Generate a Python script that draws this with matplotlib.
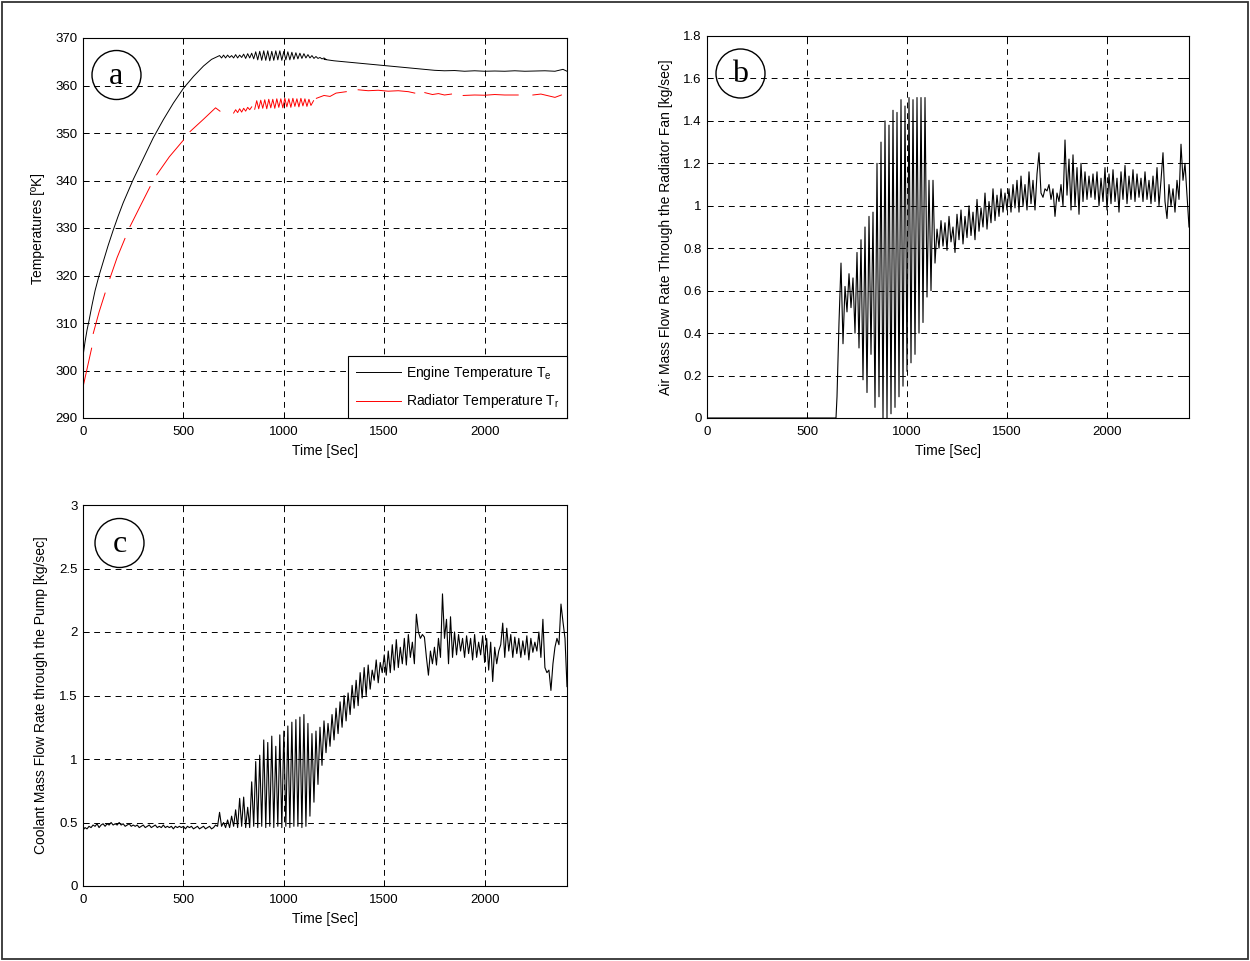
import numpy as np
import matplotlib
matplotlib.use('Agg')
import matplotlib.pyplot as plt
from matplotlib.patches import Circle, Rectangle
from matplotlib.ticker import FuncFormatter

plt.rcParams['font.family'] = ['Liberation Sans', 'DejaVu Sans']
plt.rcParams['mathtext.fontset'] = 'custom'
plt.rcParams['mathtext.rm'] = 'Liberation Sans'
plt.rcParams['mathtext.it'] = 'Liberation Sans'

## ================= data ================= ##
# (a) engine temperature [K]: smooth rise, then oscillating part (10 s steps), then decay
eng_rise_t = [0, 10, 20, 30, 45, 60, 80, 100, 125, 150, 175, 200, 250, 300,
              350, 400, 450, 500, 550, 600, 640, 670]
eng_rise_v = [303.0, 306.0, 308.5, 310.5, 313.8, 316.8, 320.0, 322.8, 326.3, 329.5,
              332.5, 335.3, 340.2, 344.6, 349.0, 352.8, 356.3, 359.4, 361.9, 364.1,
              365.5, 366.1]
eng_osc_t0 = 680
eng_osc_v = [366.3, 365.8, 366.4, 365.8, 366.4, 365.9, 366.3, 365.8, 366.5, 365.8,
             366.4, 365.9, 366.6, 365.7, 366.7, 365.8, 366.8, 365.6,
             367.1, 365.4, 367.2, 365.3, 367.3, 365.3, 367.3, 365.2, 367.2, 365.3,
             367.3, 365.4, 367.3, 365.3, 367.2, 365.4, 367.1, 365.4, 367.0, 365.5,
             366.9, 365.6, 366.8, 365.7, 366.7, 365.8, 366.5,
             365.8, 366.3, 365.7, 366.1, 365.7, 365.9, 365.6, 365.8, 365.5]
eng_decay_t = [1200, 1250, 1300, 1350, 1400, 1450, 1500, 1550, 1600, 1650, 1700, 1750,
               1800, 1850, 1900, 1950, 2000, 2050, 2100, 2150, 2200, 2250, 2300, 2350,
               2390, 2410]
eng_decay_v = [365.5, 365.2, 365.0, 364.8, 364.6, 364.4, 364.2, 364.0, 363.8, 363.6,
               363.4, 363.2, 363.1, 363.15, 363.0, 363.1, 363.0, 363.05, 363.0, 363.1,
               363.0, 363.05, 363.1, 363.0, 363.4, 363.0]

# (a) radiator temperature [K], drawn as separate pieces (gaps in the trace)
rad_pieces_t = [
    [0, 43],
    [51, 80, 110],
    [134, 170, 209],
    [234, 285, 334],
    [367, 430, 500],
    [533, 600, 660, 682],
    [750, 760, 770, 780, 790, 800, 810, 820, 830, 840],
    [855, 865, 875, 885, 895, 905, 915, 925, 935, 945, 955, 965, 975, 985, 995,
     1005, 1015, 1025, 1035, 1045, 1055, 1065, 1075, 1085, 1095, 1105, 1115, 1125,
     1135, 1148],
    [1162, 1200, 1230, 1260, 1311],
    [1370, 1420, 1470, 1520, 1570, 1620, 1652],
    [1702, 1740, 1770, 1800, 1835],
    [1893, 1950, 2000, 2050, 2100, 2167],
    [2240, 2280, 2320, 2350, 2382],
]
rad_pieces_v = [
    [296.5, 304.7],
    [307.8, 312.3, 316.3],
    [319.4, 323.8, 327.8],
    [330.3, 334.6, 338.7],
    [341.2, 345.0, 348.5],
    [350.3, 352.9, 355.3, 354.6],
    [354.2, 354.9, 354.3, 355.1, 354.4, 355.2, 354.6, 355.4, 354.9, 355.5],
    [355.0, 356.8, 355.1, 356.9, 355.2, 357.0, 355.1, 357.1, 355.3, 357.1, 355.2,
     357.2, 355.4, 357.2, 355.3, 357.3, 355.5, 357.2, 355.4, 357.3, 355.6, 357.2,
     355.5, 357.3, 355.7, 357.2, 355.6, 357.1, 355.8, 356.8],
    [357.3, 357.9, 357.7, 358.4, 358.7],
    [359.1, 358.9, 359.0, 358.8, 358.9, 358.7, 358.4],
    [358.5, 358.1, 358.3, 358.0, 358.2],
    [357.9, 358.0, 357.95, 358.1, 358.0, 358.0],
    [358.0, 358.2, 357.8, 357.5, 358.0],
]

# (b) air mass flow through the radiator fan [kg/sec]
fan_off_t = [0, 645]
fan_off_v = [0.0, 0.0]
fan_t0 = 650  # 10 s samples from here
fan_v = [0.10, 0.45, 0.73, 0.35, 0.62, 0.50, 0.68, 0.52, 0.66, 0.40,
         0.78, 0.33, 0.84, 0.18, 0.90, 0.12, 0.95, 0.30, 0.97, 0.05,
         1.20, 0.10, 1.30, 0.00, 1.40, 0.00, 1.38, 0.02, 1.45, 0.05,
         1.44, 0.10, 1.50, 0.15, 1.47, 0.22, 1.51, 0.26, 1.50, 0.30,
         1.51, 0.40, 1.51, 0.45, 1.51, 0.57, 1.12, 0.60, 1.12, 0.73, 0.89,
         0.80, 0.93, 0.81, 0.92, 0.79, 0.95, 0.83, 0.90, 0.78, 0.96,
         0.84, 0.98, 0.82, 0.95, 0.85, 1.00, 0.86, 0.97, 0.84, 1.03,
         0.88, 0.99, 0.90, 1.06, 0.89, 1.02, 0.92, 1.08, 0.93, 1.05,
         0.95, 1.08, 0.97, 1.06, 0.98, 1.08, 0.97, 1.10, 0.99, 1.12,
         0.97, 1.14, 1.00, 1.10, 0.98, 1.16, 1.01, 1.12, 0.98, 1.15,
         1.25, 1.06, 1.04, 1.08, 1.07, 1.10, 1.03, 1.08, 0.95, 1.06,
         1.02, 1.10, 1.00, 1.31, 1.05, 1.22, 0.98, 1.24, 1.00, 1.18,
         0.96, 1.20, 1.02, 1.16, 1.03, 1.14, 1.04, 1.15, 1.03, 1.16,
         1.00, 1.13, 1.02, 1.18, 0.98, 1.15, 1.01, 1.17, 1.02, 1.13,
         0.97, 1.16, 1.03, 1.19, 1.01, 1.14, 1.03, 1.17, 1.02, 1.15,
         1.04, 1.13, 1.02, 1.16, 1.03, 1.12, 1.01, 1.14, 1.02, 1.18,
         1.00, 1.12, 1.25, 1.02, 0.94, 1.10, 1.00, 1.08, 0.97, 1.12,
         1.03, 1.29, 1.12, 1.20, 1.05, 0.90]

# (c) coolant mass flow through the pump [kg/sec], 10 s samples from t = 0
pump_v = [0.44, 0.46, 0.45, 0.47, 0.46, 0.48, 0.47, 0.49, 0.46, 0.48,
          0.49, 0.47, 0.49, 0.48, 0.50, 0.48, 0.49, 0.48, 0.50, 0.48,
          0.49, 0.47, 0.48, 0.49, 0.47, 0.48, 0.47, 0.48, 0.46, 0.47,
          0.48, 0.46, 0.47, 0.48, 0.46, 0.47, 0.48, 0.46, 0.47, 0.46,
          0.48, 0.46, 0.47, 0.46, 0.47, 0.45, 0.47, 0.46, 0.47, 0.46,
          0.47, 0.45, 0.47, 0.46, 0.47, 0.45, 0.46, 0.47, 0.45, 0.46,
          0.47, 0.45, 0.46, 0.47, 0.45, 0.46, 0.48, 0.47,
          0.58, 0.47, 0.50, 0.46, 0.52, 0.46, 0.55, 0.47, 0.60, 0.46,
          0.69, 0.47, 0.70, 0.46, 0.62, 0.46, 0.82, 0.47, 0.98, 0.46,
          1.03, 0.47, 1.15, 0.46, 1.13, 0.47, 1.18, 0.46, 1.10, 0.47,
          1.19, 0.46, 1.22, 0.47, 1.26, 0.46, 1.29, 0.47, 1.31, 0.47,
          1.33, 0.46, 1.35, 0.47, 1.28,
          0.55, 1.20, 0.66, 1.22, 0.80, 1.25, 0.95, 1.30, 1.05, 1.28,
          1.10, 1.35, 1.15, 1.40, 1.20, 1.45, 1.25, 1.50, 1.30, 1.52,
          1.35, 1.58, 1.40, 1.62, 1.42, 1.68, 1.48, 1.72, 1.50, 1.74,
          1.55, 1.70, 1.62, 1.78, 1.60, 1.76, 1.68, 1.82, 1.66, 1.85,
          1.68, 1.90, 1.70, 1.94, 1.72, 1.88, 1.75, 1.95, 1.74, 1.98,
          1.80, 1.92, 1.75, 2.14, 2.00, 1.95, 1.98, 1.96, 1.80, 1.66,
          1.85, 1.75, 1.88, 1.74, 1.95, 1.80, 2.30, 1.95, 2.10, 1.75,
          2.12, 1.80, 2.00, 1.82, 1.98, 1.85, 1.95, 1.80, 1.97, 1.83,
          1.95, 1.78, 1.98, 1.80, 1.92, 1.82, 1.97, 1.76, 1.95, 1.70,
          1.92, 1.61, 1.88, 1.75, 1.85, 1.90, 2.07, 1.80, 2.03, 1.85,
          1.98, 1.80, 1.96, 1.83, 1.95, 1.80, 1.93, 1.82, 1.97, 1.78,
          1.95, 1.84, 1.92, 1.85, 2.00, 1.80, 2.10, 1.72, 1.68, 1.70,
          1.54, 1.75, 1.88, 1.95, 1.90, 2.22, 2.08, 1.95, 1.57]

x_max = 2410
x_ticks = [0, 500, 1000, 1500, 2000]

## ===================== build the series ===================== ##
eng_t = np.concatenate([eng_rise_t, eng_osc_t0 + 10 * np.arange(len(eng_osc_v)), eng_decay_t])
eng_v = np.concatenate([eng_rise_v, eng_osc_v, eng_decay_v])

rad_t, rad_v = [], []
for pt, pv in zip(rad_pieces_t, rad_pieces_v):
    rad_t += pt + [np.nan]
    rad_v += pv + [np.nan]

fan_t = np.concatenate([fan_off_t, fan_t0 + 10 * np.arange(len(fan_v))])
fan_all = np.concatenate([fan_off_v, fan_v])

pump_t = 10 * np.arange(len(pump_v))

## ========================= plotting ========================= ##
W, H = 1250, 961
fig = plt.figure(figsize=(W / 100, H / 100), dpi=100)


def px_axes(l, t, r, b):
    return fig.add_axes([l / W, 1 - b / H, (r - l) / W, (b - t) / H])


def style(ax):
    ax.grid(True, color='k', linestyle=(0, (6, 5)), linewidth=0.7)
    ax.tick_params(direction='in', top=True, right=True, length=4, width=0.7,
                   labelsize=9.5)
    ax.tick_params(axis='x', pad=6)
    ax.tick_params(axis='y', pad=4)
    for s in ax.spines.values():
        s.set_linewidth(0.8)
    ax.set_xlim(0, x_max)
    ax.set_xticks(x_ticks)
    ax.yaxis.set_major_formatter(FuncFormatter(lambda v, p: '%g' % v))
    ax.set_xlabel('Time [Sec]', fontsize=10, labelpad=4)


def letter(cx, cy, s):
    circ = Circle((cx / 100, (H - cy) / 100), 0.245, transform=fig.dpi_scale_trans,
                  fill=False, edgecolor='k', linewidth=1.0, zorder=10)
    fig.add_artist(circ)
    fig.text(cx / W, 1 - (cy + 1) / H, s, ha='center', va='center',
             family='Liberation Serif', fontsize=23, zorder=11)


# (a)
ax1 = px_axes(83, 38, 567, 418)
ax1.plot(eng_t, eng_v, color='k', linewidth=0.7, label='Engine Temperature T$_\\mathrm{e}$')
ax1.plot(rad_t, rad_v, color='r', linewidth=0.7, label='Radiator Temperature T$_\\mathrm{r}$')
style(ax1)
ax1.set_ylim(290, 370)
ax1.set_yticks(range(290, 371, 10))
ax1.set_ylabel('Temperatures [ºK]', fontsize=10, labelpad=7)
leg = ax1.legend(loc='lower right', fontsize=10, frameon=True, fancybox=False,
                 edgecolor='k', framealpha=1, borderaxespad=0, handlelength=3.2,
                 handletextpad=0.4, borderpad=0.55, labelspacing=0.75)
leg.get_frame().set_linewidth(0.8)

# (b)
ax2 = px_axes(707, 36, 1189, 418)
ax2.plot(fan_t, fan_all, color='k', linewidth=0.8)
style(ax2)
ax2.set_ylim(0, 1.8)
ax2.set_yticks(np.arange(0, 1.81, 0.2))
ax2.set_ylabel('Air Mass Flow Rate Through the Radiator Fan [kg/sec]', fontsize=10, labelpad=7)

# (c)
ax3 = px_axes(83, 505, 567, 886)
ax3.plot(pump_t, pump_v, color='k', linewidth=0.8)
style(ax3)
ax3.set_ylim(0, 3)
ax3.set_yticks(np.arange(0, 3.01, 0.5))
ax3.set_ylabel('Coolant Mass Flow Rate through the Pump [kg/sec]', fontsize=10, labelpad=8)

letter(116.5, 75, 'a')
letter(740.5, 73.5, 'b')
letter(119.5, 543, 'c')

# outer frame
fig.add_artist(Rectangle((2 / W, 2 / H), 1 - 4 / W, 1 - 4 / H, transform=fig.transFigure,
                         fill=False, edgecolor='#333333', linewidth=1.3))

fig.savefig('out.png', dpi=100)
